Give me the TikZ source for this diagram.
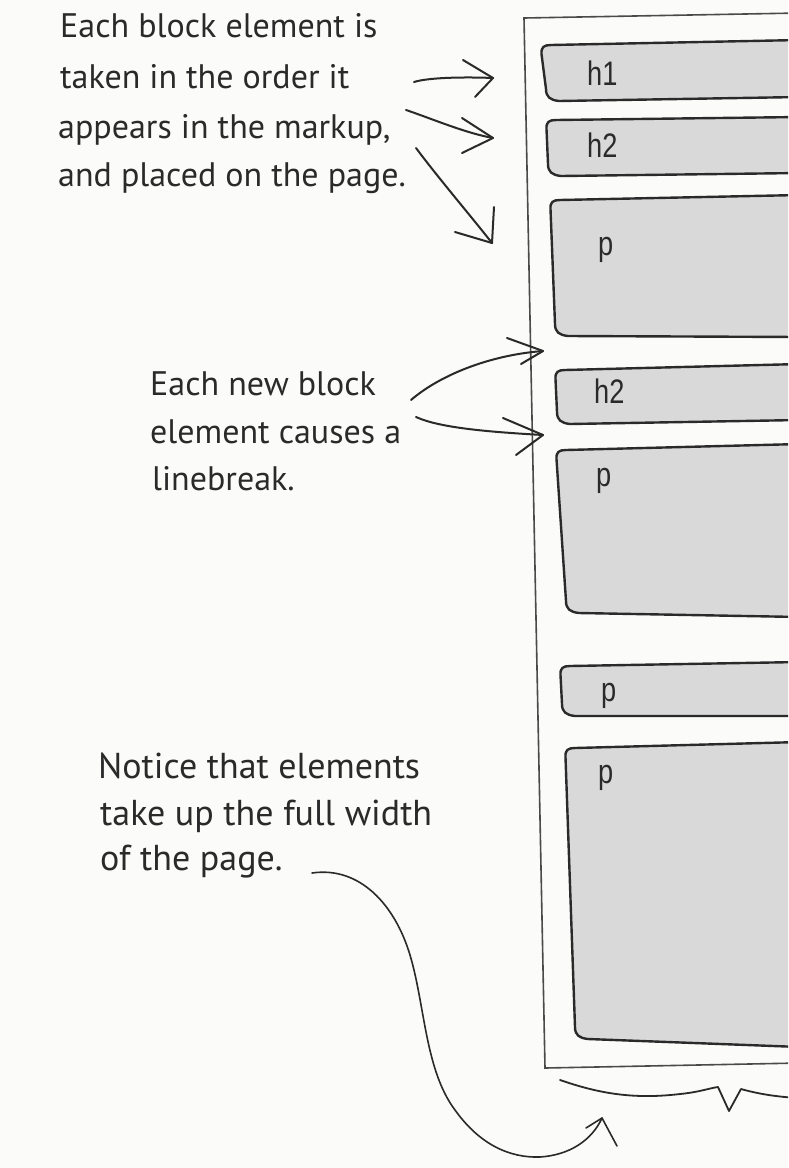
\documentclass[tikz,border=0pt]{standalone}
\usepackage{fontspec}
\setmainfont{PT Sans}
\newfontfamily\labelfont{Liberation Sans}
\definecolor{paper}{HTML}{FBFBF9}
\definecolor{ink}{HTML}{2A2A2A}
\definecolor{boxgray}{HTML}{D9D9D9}
\definecolor{framegray}{HTML}{4A4A4A}
\tikzset{
  note/.style={anchor=base west, inner sep=0pt, text=ink, font=\fontsize{34}{34}\selectfont},
  bignote/.style={note, font=\fontsize{36}{36}\selectfont},
  lbl/.style={anchor=base west, inner sep=0pt, text=ink, font=\fontsize{34}{34}\selectfont\labelfont},
  blockbox/.style={draw=ink, fill=boxgray, line width=2.4pt, line join=round},
  pageframe/.style={draw=framegray, line width=1.6pt},
  arr/.style={draw=ink, line width=2pt, line cap=round, line join=round},
  thinarr/.style={draw=ink, line width=1.6pt, line cap=round, line join=round}
}
% #1 x top-left, #2 y top, #3 x bottom-left, #4 y bottom, #5 y top right, #6 y bottom right
\newcommand\blk[6]{%
  \path[blockbox] (800,#5) -- ({#1+10},#2) .. controls ({#1+3},#2) and (#1,{#2+2}) .. ({#1+0.5},{#2+9})
    -- ({#3},{#4-11})
    .. controls (#3,{#4-3}) and ({#3+4},#4) .. ({#3+13},{#4+1}) -- (800,#6) -- cycle;}
\begin{document}
\begin{tikzpicture}[x=1pt,y=-1pt]
\useasboundingbox (0,0) rectangle (788,1168);
\clip (0,0) rectangle (788,1168);
\fill[paper] (0,0) rectangle (788,1168);

% page frame
\draw[pageframe] (800,13) -- (524,18) -- (545,1068) -- (800,1063);

% blocks
\blk{541}{45}{546}{100}{40}{97}
\blk{546}{120}{548}{175}{117}{173}
\blk{550}{200}{555}{335}{195}{337}
\blk{555}{370}{557}{423}{364}{420}
\blk{556}{450}{566}{612}{444}{617}
\blk{560}{666}{562}{715}{662}{716}
\blk{565}{748}{575}{1038}{742}{1047}

\node[lbl] (l1) at (587,85) {\scalebox{0.8}[1]{h1}};
\node[lbl] (l2) at (587,157) {\scalebox{0.8}[1]{h2}};
\node[lbl] (l3) at (598,255) {\scalebox{0.8}[1]{p}};
\node[lbl] (l4) at (594,403) {\scalebox{0.8}[1]{h2}};
\node[lbl] (l5) at (596,486) {\scalebox{0.8}[1]{p}};
\node[lbl] (l6) at (601,701) {\scalebox{0.8}[1]{p}};
\node[lbl] (l7) at (598,783) {\scalebox{0.8}[1]{p}};

% brace under the page
\draw[arr, line width=1.8pt] (560,1080) .. controls (595,1092) and (630,1100) .. (680,1094)
  .. controls (700,1092) and (710,1088) .. (718,1087) -- (729,1111) -- (741,1089)
  .. controls (755,1093) and (775,1097) .. (800,1098);

% notes
\node[note] (t1a) at (60,37) {Each block element is};
\node[note] (t1b) at (60,88) {taken in the order it};
\node[note] (t1c) at (58,138) {appears in the markup,};
\node[note] (t1d) at (58,186) {and placed on the page.};
\node[note] (t2a) at (150,395) {Each new block};
\node[note] (t2b) at (150,443) {element causes a};
\node[note] (t2c) at (152,490) {linebreak.};
\node[bignote] (t3a) at (98,778) {Notice that elements};
\node[bignote] (t3b) at (100,825) {take up the full width};
\node[bignote] (t3c) at (100,870) {of the page.};

% arrow coordinates
\coordinate (a1s) at (414,82);  \coordinate (a1t) at (493,78);
\coordinate (a2s) at (406,110); \coordinate (a2t) at (493,138);
\coordinate (a3s) at (416,148); \coordinate (a3t) at (492,243);
\coordinate (a4s) at (411,400); \coordinate (a4t) at (543,351);
\coordinate (a5s) at (416,417); \coordinate (a5t) at (543,435);
\coordinate (a6s) at (312,873); \coordinate (a6t) at (602,1118);

\draw[arr] (a1s) .. controls (430,77) and (470,77) .. (a1t);
\draw[arr] (463,60) -- (a1t) -- (475,97);
\draw[arr] (a2s) .. controls (430,118) and (465,133) .. (a2t);
\draw[arr] (462,118) -- (a2t) -- (462,153);
\draw[arr] (a3s) .. controls (440,180) and (470,215) .. (a3t);
\draw[arr] (494,207) -- (a3t) -- (455,232);
\draw[arr] (a4s) .. controls (440,375) and (490,355) .. (a4t);
\draw[arr] (507,338) -- (a4t) -- (521,364);
\draw[arr] (a5s) .. controls (440,428) and (490,432) .. (a5t);
\draw[arr] (503,418) -- (a5t) -- (516,455);
\draw[thinarr] (a6s) .. controls (360,866) and (395,905) .. (410,955)
  .. controls (425,1005) and (425,1070) .. (455,1110)
  .. controls (480,1145) and (510,1158) .. (540,1157)
  .. controls (570,1155) and (592,1140) .. (a6t);
\draw[thinarr] (586,1128) -- (a6t) -- (617,1146);
\end{tikzpicture}
\end{document}
